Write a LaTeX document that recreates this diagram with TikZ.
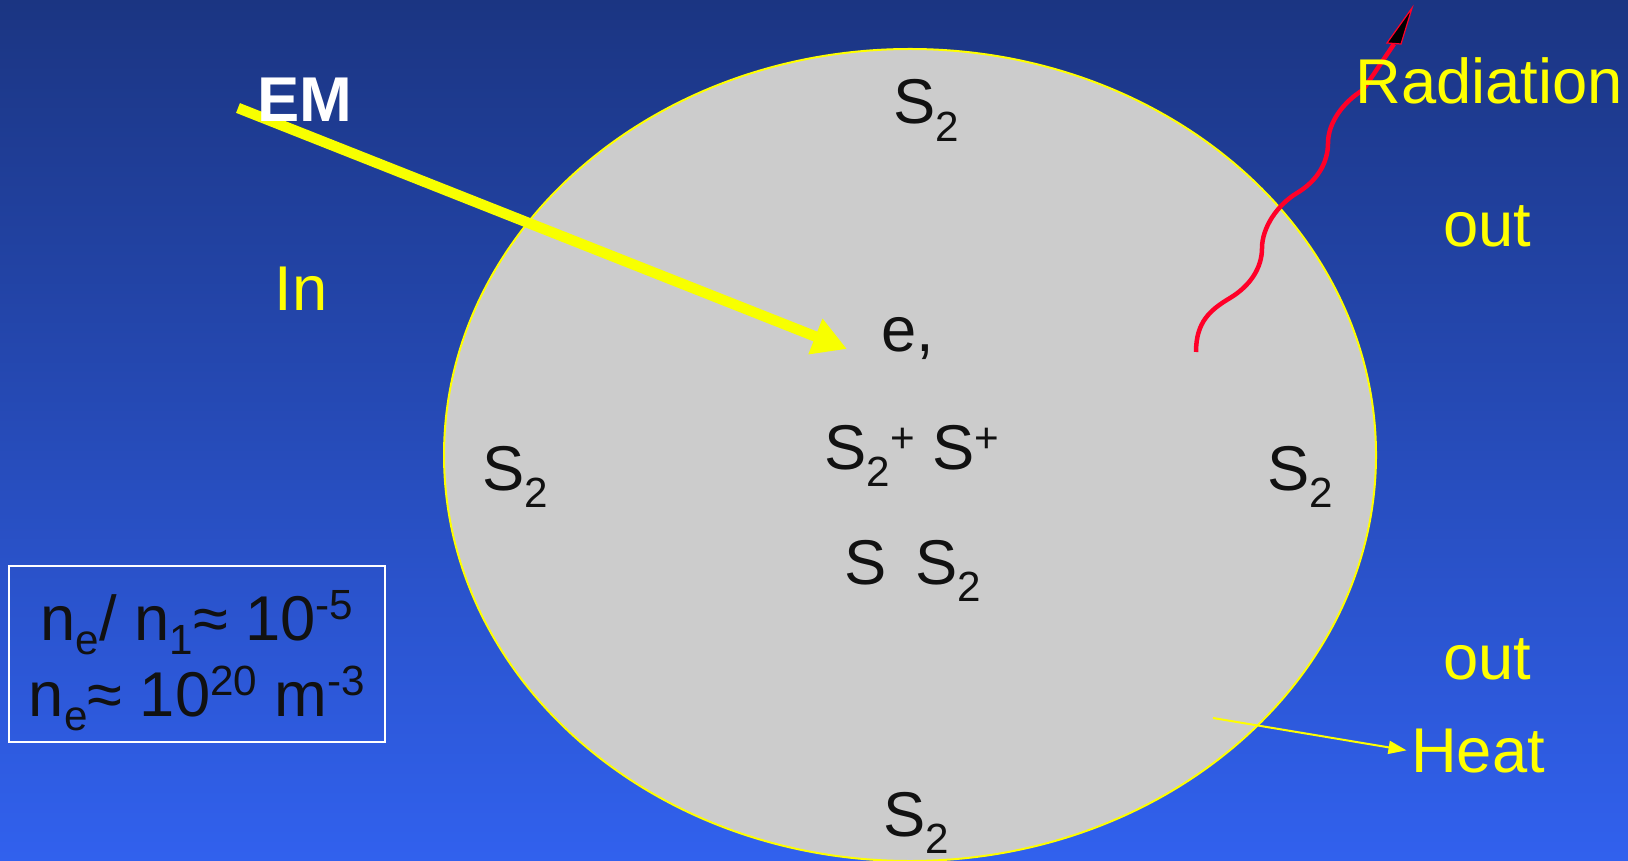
\documentclass[tikz,border=0pt]{standalone}
\usepackage{fontspec}
\setmainfont{Liberation Sans}
\usetikzlibrary{arrows.meta}
\definecolor{slidetop}{RGB}{27,53,130}
\definecolor{slidebot}{RGB}{49,97,238}
\definecolor{plasmagray}{RGB}{204,204,204}
\definecolor{labelyellow}{RGB}{255,255,0}
\definecolor{beamyellow}{RGB}{248,255,0}
\definecolor{radred}{RGB}{255,0,40}
\definecolor{ink}{RGB}{17,17,17}
\newcommand\dn[2][-0.28em]{\raisebox{#1}{\fontsize{12}{12}\selectfont #2}}
\newcommand\up[2][0.33em]{\raisebox{#1}{\fontsize{12}{12}\selectfont #2}}
\tikzset{
  txt/.style={font=\fontsize{18}{21.6}\selectfont, inner sep=0pt},
  species/.style={txt, text=ink, anchor=base},
  flow/.style={txt, text=labelyellow},
}
\begin{document}
\begin{tikzpicture}[x=0.01cm, y=-0.01cm]
	\useasboundingbox (0,0) rectangle (1628,861);
	\shade[top color=slidetop, bottom color=slidebot] (0,0) rectangle (1628,861);
	\clip (0,0) rectangle (1628,861);
	
	% plasma
	\filldraw[fill=plasmagray, draw=labelyellow, line width=0.02cm] (910,455) ellipse [x radius=466, y radius=406];
	
	\node[species] (s2top) at (926,124) {S\dn{2}};
	\node[species] (elec) at (908,351) {e,};
	\node[species] (ions) at (912,469) {S\dn{2}\up[0.26em]{+} S\up[0.26em]{+}};
	\node[species] (ss2) at (913,584) {S\hspace{0.45em}S\dn{2}};
	\node[species] (s2left) at (515,490) {S\dn{2}};
	\node[species] (s2right) at (1300,490) {S\dn{2}};
	\node[species] (s2bot) at (916,836) {S\dn{2}};
	
	% EM in
	\coordinate (beamstart) at (238,108);
	\coordinate (beamend) at (847,349);
	\draw[beamyellow, line width=0.105cm, -{Triangle[length=0.34cm, width=0.36cm]}] (beamstart) -- (beamend);
	\node[txt, text=white, font=\fontsize{18}{21.6}\selectfont\bfseries] (em) at (305,100) {EM};
	\node[flow] (in) at (301,289) {In};
	
	% radiation out
	\coordinate (w0) at (1196,352);
	\coordinate (w1) at (1230,298);
	\coordinate (w2) at (1262,248);
	\coordinate (w3) at (1297,193);
	\coordinate (w4) at (1328,143);
	\coordinate (w5) at (1363,90);
	\coordinate (whead) at (1394,44);
	\draw[radred, line width=0.045cm] (w0) .. controls (1196,322) and (1210,310) .. (w1)
		.. controls (1250,286) and (1262,268) .. (w2)
		.. controls (1262,228) and (1277,205) .. (w3)
		.. controls (1317,181) and (1328,163) .. (w4)
		.. controls (1328,123) and (1343,102) .. (w5) -- (whead);
	\filldraw[draw=radred, fill=black, line width=0.012cm] (1387,43) -- (1412,8) -- (1401,44) -- cycle;
	\node[flow] (radlbl) at (1489,81) {Radiation};
	\node[flow] (out1) at (1487,226) {out};
	
	% heat out
	\node[flow] (out2) at (1487,659) {out};
	\node[flow] (heatlbl) at (1478,751) {Heat};
	\coordinate (heatsrc) at (1213,718);
	\draw[labelyellow, line width=0.02cm, shorten >=0.04cm, -{Triangle[length=0.18cm, width=0.13cm]}] (heatsrc) -- (heatlbl.west);
	
	% densities
	\node[draw=white, line width=0.02cm, minimum width=3.76cm, minimum height=1.76cm, inner sep=0pt] (densbox) at (197,654) {};
	\node[txt, text=ink, align=center] (dens) at (197,661) {n\dn[-0.22em]{e}/ n\dn[-0.22em]{1}≈ 10\up{-5}\\ n\dn[-0.22em]{e}≈ 10\up{20} m\up{-3}};
\end{tikzpicture}
\end{document}
